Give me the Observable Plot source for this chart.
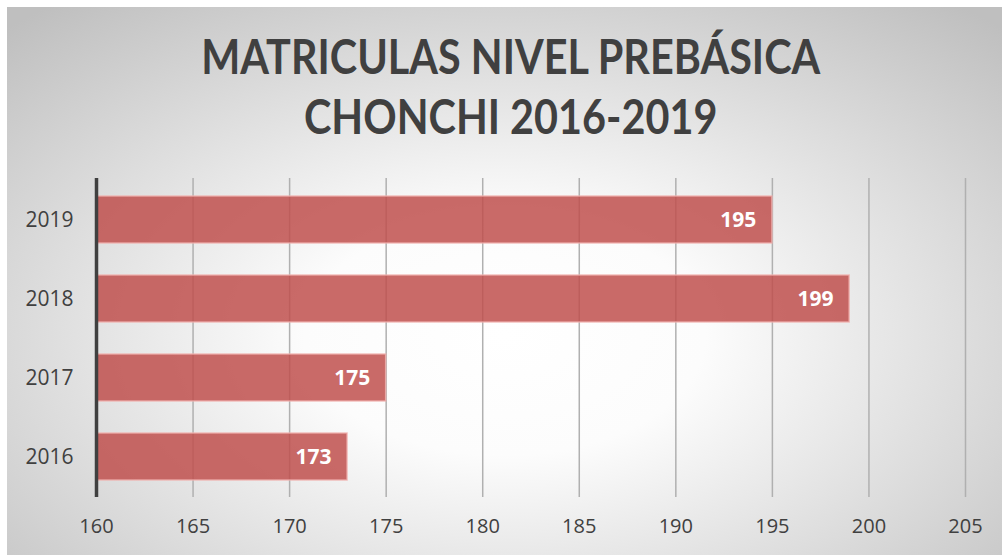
<!DOCTYPE html>
<html>
<head>
<meta charset="utf-8">
<script src="https://cdn.jsdelivr.net/npm/d3@7"></script>
<script src="https://cdn.jsdelivr.net/npm/@observablehq/plot@0.6"></script>
<style>
  html, body { margin: 0; padding: 0; background: #ffffff; }
  #frame {
    position: absolute; left: 7px; top: 7px; width: 995px; height: 548px;
    background: radial-gradient(ellipse 72% 78% at 50% 60%, #ffffff 0%, #fcfcfc 28%, #bfbfbf 100%);
    overflow: hidden;
  }
  #title {
    position: absolute; left: 0; top: 0; width: 995px; height: 165px;
    font-family: "Lato", "Open Sans", sans-serif; font-weight: 700;
    font-size: 47px; line-height: 60px; color: #404040; text-align: center;
    padding-top: 19px; box-sizing: border-box;
  }
  #title span { display: inline-block; transform: scaleX(0.88); transform-origin: 50% 50%; margin-left: 12px; }
  #chart { position: absolute; left: 0; top: 165px; }
</style>
</head>
<body>
<div id="frame">
  <div id="title"><span>MATRICULAS NIVEL PREBÁSICA<br>CHONCHI 2016-2019</span></div>
  <div id="chart"></div>
</div>
<script>
const years = ["2019", "2018", "2017", "2016"];
const values = [195, 199, 175, 173];
const xTicks = [160, 165, 170, 175, 180, 185, 190, 195, 200, 205];

const data = years.map((y, i) => ({year: y, value: values[i]}));

const plot = Plot.plot({
  width: 995,
  height: 383,
  marginLeft: 89,
  marginRight: 37,
  marginTop: 6,
  marginBottom: 58,
  style: {background: "transparent", fontFamily: "'Open Sans', sans-serif", fontSize: "20px", color: "#404040"},
  x: {domain: [160, 205], ticks: xTicks, label: null},
  y: {domain: years, paddingInner: 0.41, paddingOuter: 0.205, label: null},
  marks: [
    Plot.ruleX(xTicks.slice(1), {stroke: "#b0b0b0", strokeWidth: 1.5}),
    Plot.barX(data, {y: "year", x1: 160, x2: "value", fill: "#c0504d", fillOpacity: 0.85, stroke: "#f0b0ae", strokeWidth: 1.5, strokeOpacity: 0.8}),
    Plot.text(data, {y: "year", x: "value", text: d => String(d.value), dx: -16, textAnchor: "end", fill: "#ffffff", fontWeight: 700, fontSize: 21}),
    Plot.ruleX([160], {stroke: "#404040", strokeWidth: 3.5}),
    Plot.axisX({ticks: xTicks, tickSize: 0, tickPadding: 21, label: null, fontSize: 20, fill: "#404040"}),
    Plot.axisY({tickSize: 0, tickPadding: 23, label: null, fontSize: 21, fill: "#404040"})
  ]
});
document.getElementById("chart").appendChild(plot);
</script>
</body>
</html>
